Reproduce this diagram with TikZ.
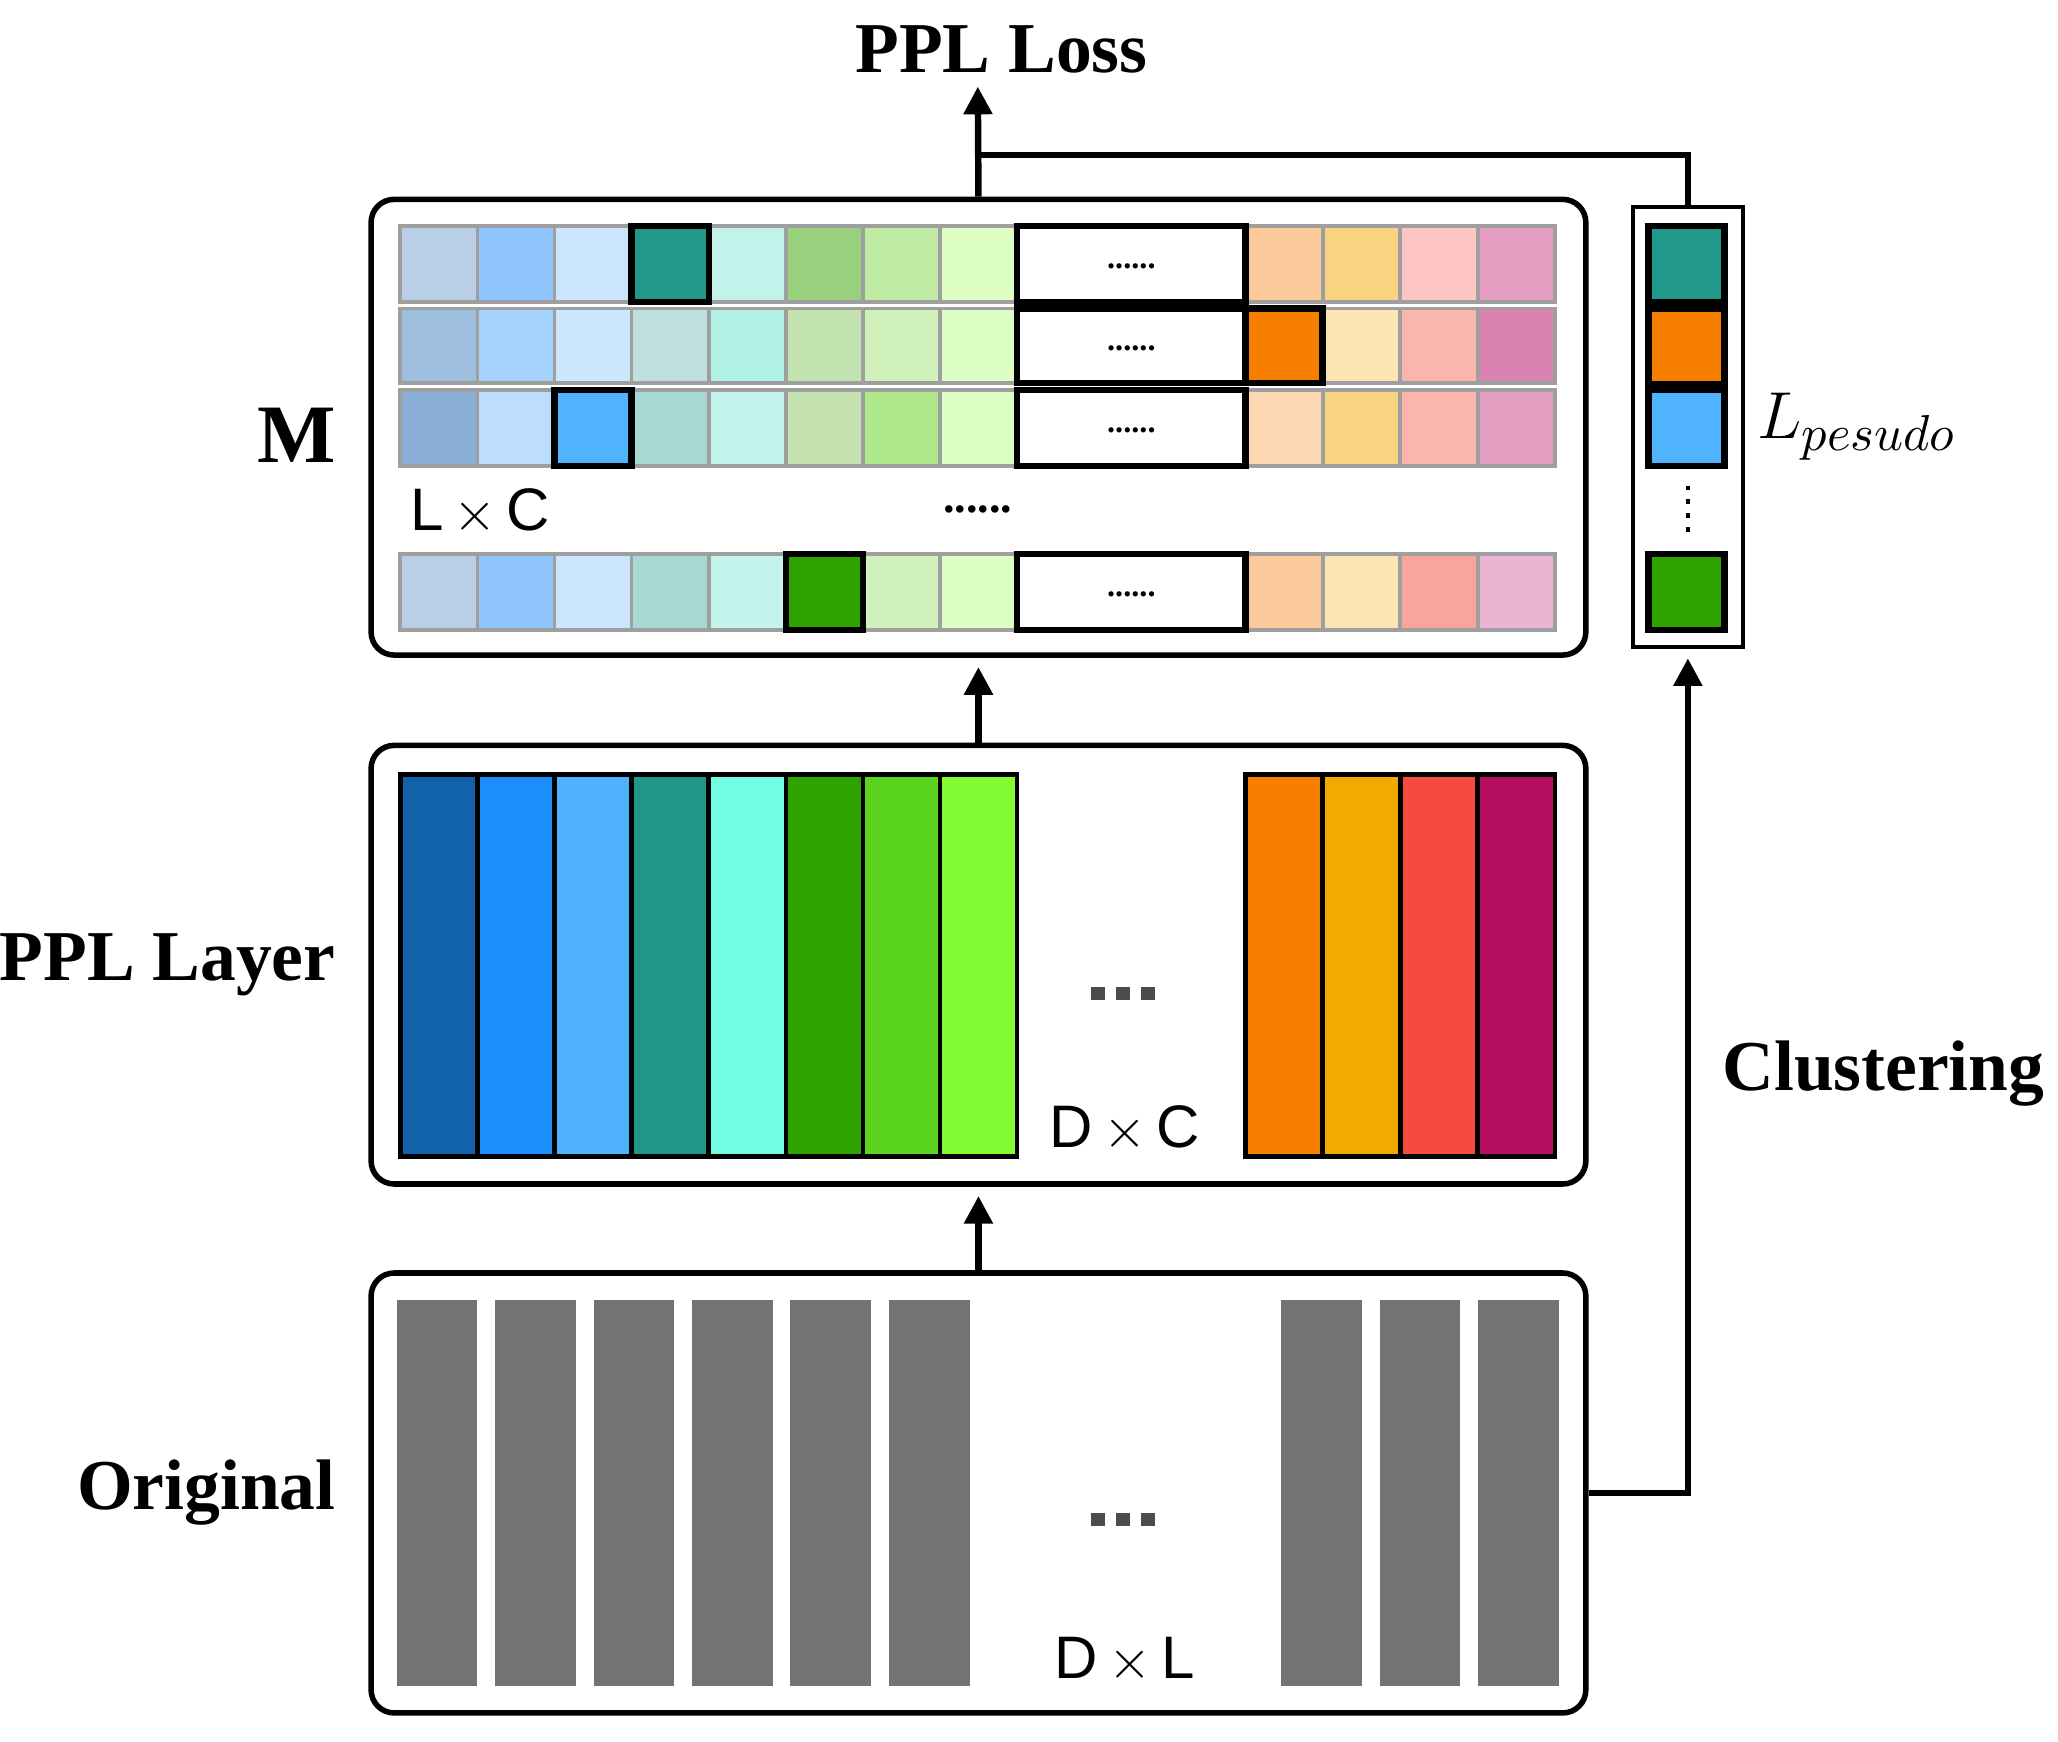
\documentclass[tikz,border=0pt]{standalone}
\usepackage{fontspec}
\setmainfont{Liberation Serif}
\newfontfamily\sansf{Liberation Sans}
\usetikzlibrary{positioning,arrows.meta}
\definecolor{barGray}{HTML}{737373}
\tikzset{
  panel/.style={draw,line width=1.2pt,rounded corners=5pt,inner sep=0pt},
  cell/.style={draw=gray!75,line width=0.8pt},
  hcell/.style={draw=black,line width=1.4pt},
  bar/.style={draw=black,line width=1pt},
  gbar/.style={draw=black!55,line width=1pt,fill=barGray},
  flow/.style={line width=1.4pt,-{Triangle[length=6pt,width=6pt]}},
  title/.style={font=\bfseries\fontsize{15.5}{17}\selectfont},
  dim/.style={font=\sansf\fontsize{13}{15}\selectfont}
}
\newcommand\bigdots[2]{\foreach \k in {0,1,2} \fill[black!70] ({#1-26+\k*19},{#2-5}) rectangle ++(11,10);}
\begin{document}
\begin{tikzpicture}[x=0.01cm,y=-0.01cm]
\useasboundingbox (0,0) rectangle (1568,1327);
% panels
\node[panel,minimum width=9.25cm,minimum height=3.47cm] (mat) at (745.5,325.5) {};
\node[panel,minimum width=9.25cm,minimum height=3.34cm] (ppl) at (745.5,735) {};
\node[panel,minimum width=9.25cm,minimum height=3.35cm] (orig) at (745.5,1137.5) {};
\node[draw,line width=0.8pt,minimum width=0.84cm,minimum height=3.35cm,inner sep=0pt] (pseudo) at (1286,325.5) {};
% matrix M rows
\foreach \row/\ya/\yb/\cols/\hl in {
  1/172/230/{B8CFE6,8EC6FD,CBE6FC,20998A,C3F2EB,98D07E,C0EBA2,DCFDC4,FCCA9A,F8D481,FDC6C3,E39DC1}/3,
  2/235/292/{9DBEDD,A4D3FD,CDE7FC,BDE0DE,B0F0E5,C2E2AF,D0F1BA,DCFDC4,F67F00,FBE5B3,FAB5AD,DA82B1}/8,
  3/297/355/{8AAFD6,BCDDFD,4FB3FD,A7D8D2,C3F3EC,C4E3B0,AFE88A,DCFDC4,FDD6B3,F8D481,FAB5AD,E39DC1}/2,
  4/422/480/{B8CFE6,8EC6FD,CBE6FC,A7D8D2,C3F3EC,2FA300,D0F1BA,DCFDC4,FCCA9A,FBE5B3,F9A49D,E9B4D1}/5} {
  \foreach \c [count=\i from 0] in \cols {
    \pgfmathsetmacro\xa{\i<8 ? 305+58.75*\i : 949+59*(\i-8)}
    \definecolor{tmp}{HTML}{\c}
    \filldraw[cell,fill=tmp] (\xa,\ya) rectangle ++(58.75,\yb-\ya);
  }
  \draw[line width=1.4pt,fill=white] (775,\ya) rectangle (949,\yb);
  \node[font=\bfseries\scriptsize] at (862,{(\ya+\yb)/2+2}) {......};
  \pgfmathsetmacro\xh{\hl<8 ? 305+58.75*\hl : 949+59*(\hl-8)}
  \draw[hcell] (\xh,\ya) rectangle ++(58.75,\yb-\ya);
}
\node[dim,anchor=west] at (300,390) {L\,$\times$\,C};
\node[font=\bfseries] at (745,388) {......};
% PPL layer bars
\foreach \c [count=\i from 0] in {1262A9,1C8EFB,4EB2FC,209787,71FCE3,2FA300,5BD41F,83FB33,F67F00,F2AA00,F54A3F,B5105F} {
  \pgfmathsetmacro\xa{\i<8 ? 305+58.75*\i : 949+59*(\i-8)}
  \definecolor{tmp}{HTML}{\c}
  \filldraw[bar,fill=tmp] (\xa,590) rectangle ++(58.75,291);
}
\bigdots{857}{757}
\node[dim] at (857,860) {D\,$\times$\,C};
% original bars
\foreach \xa in {304,379,454,529,604,679,978,1053,1128}
  \filldraw[gbar] (\xa,992) rectangle ++(58,291);
\bigdots{857}{1158}
\node[dim] at (857,1265) {D\,$\times$\,L};
% pseudo labels
\foreach \ya/\c in {172/20998A,235/F67F00,297/4FB3FD,422/2FA300} {
  \definecolor{tmp}{HTML}{\c}
  \filldraw[hcell,fill=tmp] (1256,\ya) rectangle ++(58,58);
}
\draw[dotted,line width=1pt] (1286,370) -- (1286,405);
% labels
\coordinate (lossIn) at (745,66);
\coordinate (split) at (745,118);
\node[title] at (763,38) {PPL Loss};
\node[font=\bfseries\fontsize{18}{20}\selectfont,anchor=east] at (268,332) {M};
\node[title,anchor=east] at (268,735) {PPL Layer};
\node[title,anchor=east] at (268,1137) {Original};
\node[title] at (1435,818) {Clustering};
\node[font=\fontsize{15}{17}\selectfont] at (1415,325) {$L_{pesudo}$};
% connectors
\draw[flow] (orig.north) -- ([yshift=-2pt]ppl.south);
\draw[flow] (ppl.north) -- ([yshift=-2pt]mat.south);
\draw[flow] (mat.north) -- (lossIn);
\draw[line width=1.4pt] (split) -| (pseudo.north);
\draw[flow] (orig.east) -| ([yshift=-2pt]pseudo.south);
\end{tikzpicture}
\end{document}
